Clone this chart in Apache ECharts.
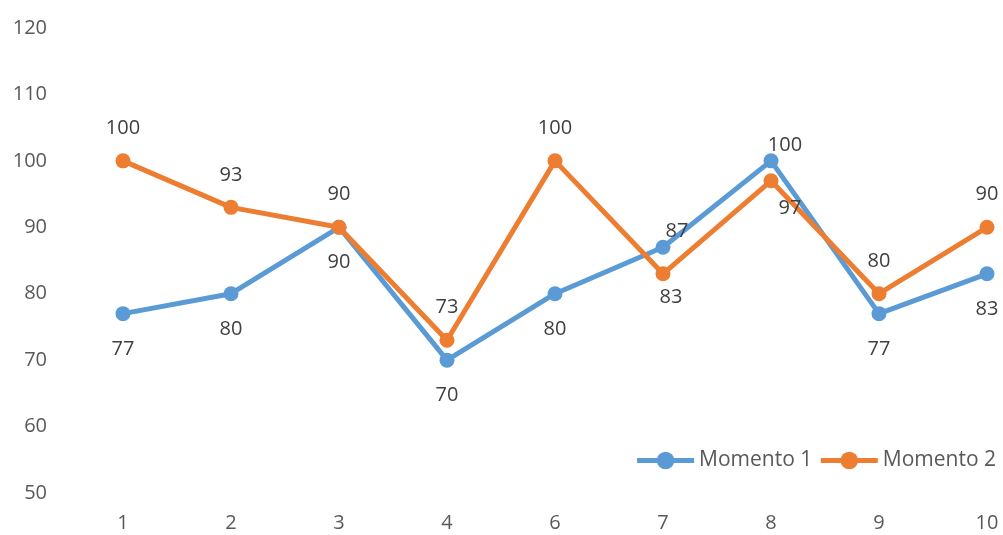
<!DOCTYPE html>
<html>
<head>
<meta charset="utf-8">
<script src="https://cdn.jsdelivr.net/npm/echarts@6/dist/echarts.min.js"></script>
<style>
  html, body { margin: 0; padding: 0; background: #fff; }
  #chart { width: 1003px; height: 535px; }
</style>
</head>
<body>
<div id="chart"></div>
<script>
// Categories along the x axis
const categories = ['1', '2', '3', '4', '6', '7', '8', '9', '10'];

// Series values
const momento1 = [77, 80, 90, 70, 80, 87, 100, 77, 83];
const momento2 = [100, 93, 90, 73, 100, 83, 97, 80, 90];

// Y axis range
const yMin = 50;
const yMax = 120;
const yStep = 10;

// Where each data label sits relative to its point
const labelPlace1 = ['below', 'below', 'below', 'below', 'below', 'aboveRight', 'aboveRight', 'below', 'below'];
const labelPlace2 = ['above', 'above', 'above', 'above', 'above', 'belowRightNear', 'belowRight', 'above', 'above'];

const FONT = '"Open Sans", "Liberation Sans", sans-serif';

function labelFor(place) {
  switch (place) {
    case 'below': return { position: 'bottom', distance: 18 };
    case 'above': return { position: 'top', distance: 15 };
    case 'aboveRight': return { position: 'top', distance: 0, offset: [14, 2] };
    case 'belowRightNear': return { position: 'bottom', distance: 6, offset: [8, 0] };
    case 'belowRight': return { position: 'bottom', distance: 10, offset: [19, 0] };
  }
}

function buildItems(values, places) {
  return values.map((v, i) => ({ value: v, label: labelFor(places[i]) }));
}

function makeSeries(name, values, places, color) {
  return {
    name: name,
    type: 'line',
    data: buildItems(values, places),
    symbol: 'circle',
    symbolSize: 15,
    lineStyle: { width: 5, color: color },
    itemStyle: { color: color },
    label: {
      show: true,
      color: '#404040',
      fontFamily: FONT,
      fontSize: 20
    },
    emphasis: { disabled: true },
    animation: false
  };
}

const chart = echarts.init(document.getElementById('chart'));
chart.setOption({
  backgroundColor: '#ffffff',
  color: ['#5B9BD5', '#ED7D31'],
  grid: { left: 123, right: 16, top: 28, bottom: 42 },
  legend: {
    right: 2,
    top: 445,
    itemWidth: 57,
    itemHeight: 22,
    itemGap: 6,
    lineStyle: { width: 5 },
    textStyle: { color: '#595959', fontFamily: FONT, fontSize: 21 },
    data: ['Momento 1', 'Momento 2']
  },
  xAxis: {
    type: 'category',
    data: categories,
    boundaryGap: false,
    axisLine: { show: false },
    axisTick: { show: false },
    axisLabel: { color: '#595959', fontFamily: FONT, fontSize: 20, margin: 20 }
  },
  yAxis: {
    type: 'value',
    min: yMin,
    max: yMax,
    interval: yStep,
    splitLine: { show: false },
    axisLine: { show: false },
    axisTick: { show: false },
    axisLabel: { color: '#595959', fontFamily: FONT, fontSize: 20, margin: 76 }
  },
  series: [
    makeSeries('Momento 1', momento1, labelPlace1, '#5B9BD5'),
    makeSeries('Momento 2', momento2, labelPlace2, '#ED7D31')
  ]
});
</script>
</body>
</html>
